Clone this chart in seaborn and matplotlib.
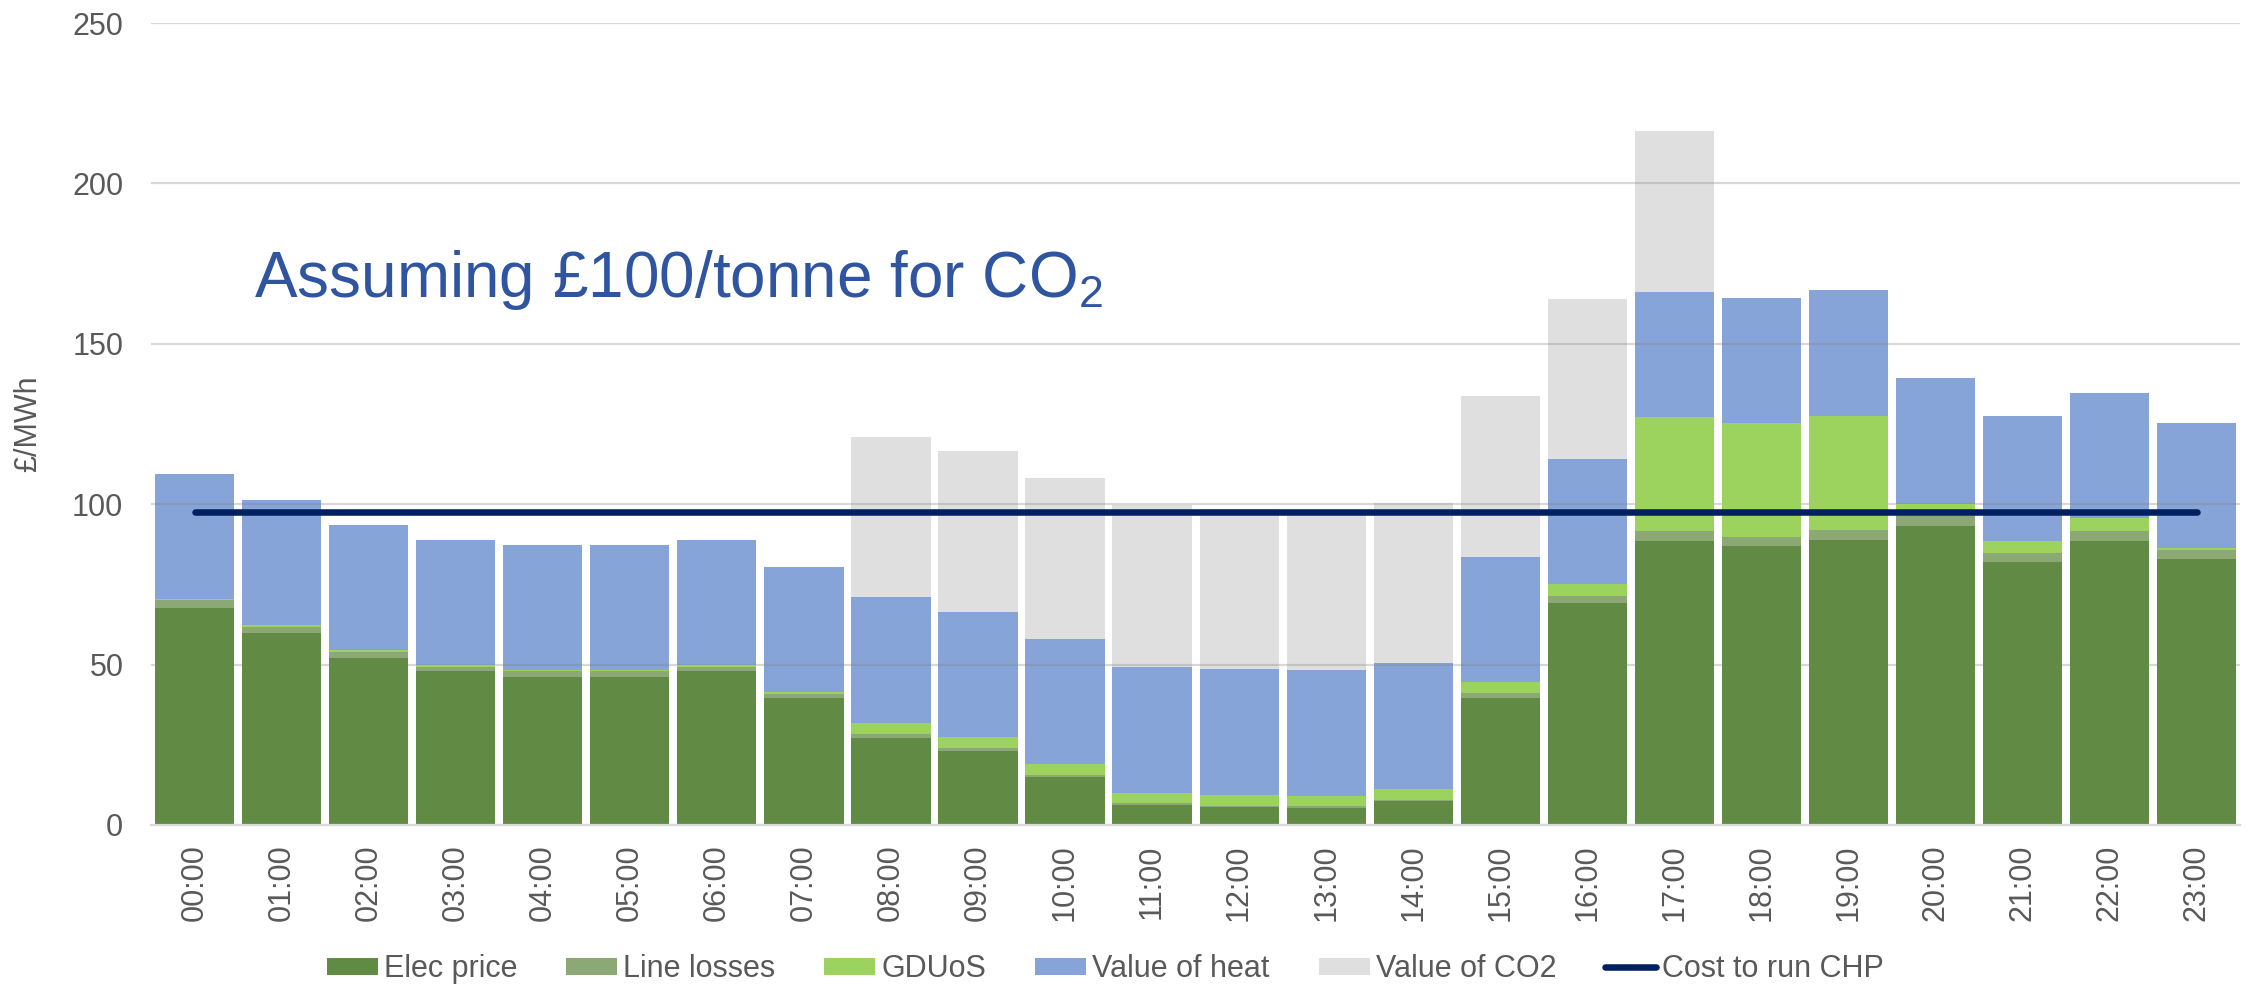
import matplotlib
matplotlib.use("Agg")
import matplotlib.pyplot as plt
import numpy as np
import pandas as pd
import seaborn as sns
from matplotlib.lines import Line2D
from matplotlib.patches import Patch

hours = [f"{h:02d}:00" for h in range(24)]

elec_price = [67.7, 59.7, 52.2, 47.9, 46.0, 46.0, 47.9, 39.7, 27.2, 23.1, 14.9, 6.2,
              5.5, 5.3, 7.4, 39.7, 69.1, 88.4, 86.9, 88.7, 93.2, 82.1, 88.6, 82.9]
line_losses = [2.3, 2.0, 1.7, 1.3, 1.9, 1.9, 1.5, 1.2, 1.2, 0.8, 0.7, 0.5,
               0.5, 0.5, 0.5, 1.3, 2.4, 3.1, 2.9, 3.3, 3.2, 2.7, 3.1, 2.9]
gduos = [0.5, 0.5, 0.5, 0.6, 0.5, 0.5, 0.5, 0.5, 3.4, 3.5, 3.4, 3.4,
         3.4, 3.3, 3.4, 3.6, 3.6, 35.6, 35.5, 35.6, 3.8, 3.6, 3.9, 0.6]
value_of_heat = [38.9, 39.0, 39.0, 38.9, 39.0, 39.0, 39.0, 39.1, 39.2, 39.1, 39.1, 39.1,
                 39.2, 39.1, 39.1, 38.9, 39.0, 38.9, 39.0, 39.1, 39.2, 39.2, 39.0, 38.9]
value_of_co2 = [0, 0, 0, 0, 0, 0, 0, 0, 49.9, 50.1, 50.0, 50.7,
                50.0, 50.0, 50.1, 50.2, 49.9, 50.3, 0, 0, 0, 0, 0, 0]
cost_to_run_chp = [97.5] * len(hours)

series_names = ["Elec price", "Line losses", "GDUoS", "Value of heat", "Value of CO2"]
series_colors = ["#618B44", "#8CA874", "#9BD35E", "#86A4D8", "#DFDFDF"]
line_color = "#002060"
text_color = "#595959"

df = pd.DataFrame({
    "hour": hours,
    "Elec price": elec_price,
    "Line losses": line_losses,
    "GDUoS": gduos,
    "Value of heat": value_of_heat,
    "Value of CO2": value_of_co2,
})
# cumulative tops, drawn tallest first so the shorter layers sit over them
cum = df[series_names].cumsum(axis=1)
cum["hour"] = df["hour"]

sns.set_theme(style="white")
plt.rcParams["font.family"] = ["Liberation Sans", "DejaVu Sans"]
plt.rcParams["mathtext.default"] = "regular"

fig = plt.figure(figsize=(22.52, 9.88), dpi=100)
ax = fig.add_axes([0.0671, 0.165, 0.9276, 0.8117])

for name, color in reversed(list(zip(series_names, series_colors))):
    z = 1 if name in ("Value of heat", "Value of CO2") else 2
    sns.barplot(
        data=cum, x="hour", y=name, color=color, saturation=1,
        width=0.91, linewidth=0, errorbar=None, ax=ax, zorder=z,
    )

line_df = pd.DataFrame({"pos": np.arange(len(hours)), "cost": cost_to_run_chp})
sns.lineplot(data=line_df, x="pos", y="cost", color=line_color, linewidth=4.7,
             solid_capstyle="round", ax=ax, zorder=3)

ax.set_xlim(-0.5, len(hours) - 0.5)
ax.set_ylim(0, 250)
ax.set_yticks(range(0, 251, 50))
ax.set_axisbelow("line")
ax.yaxis.grid(True, color="#808080", alpha=0.3, linewidth=1.6)
ax.xaxis.grid(False)
for side in ["left", "right", "top"]:
    ax.spines[side].set_visible(False)
ax.spines["bottom"].set_color("#D9D9D9")
ax.spines["bottom"].set_linewidth(1.6)

ax.tick_params(axis="y", length=0, pad=20, labelsize=22, labelcolor=text_color)
ax.tick_params(axis="x", length=0, pad=14, labelsize=22, labelcolor=text_color,
               labelrotation=90)
ax.set_xlabel("")
ax.set_ylabel("£/MWh", fontsize=22, color=text_color, labelpad=21)

ax.text(0.68, 164.7, "Assuming £100/tonne for CO$_{2}$", fontsize=46,
        color="#2F54A0", ha="left", va="baseline")

handles = [Patch(facecolor=c, edgecolor="none", label=n)
           for n, c in zip(series_names, series_colors)]
handles.append(Line2D([0], [0], color=line_color, linewidth=4.7,
                      solid_capstyle="round", label="Cost to run CHP"))
fig.legend(
    handles=handles, loc="center", bbox_to_anchor=(0.4908, 0.019),
    ncol=6, frameon=False, fontsize=22, labelcolor=text_color,
    handlelength=1.67, handleheight=0.5, handletextpad=0.2,
    columnspacing=1.6, borderaxespad=0,
)

fig.savefig("out.png", dpi=100)
